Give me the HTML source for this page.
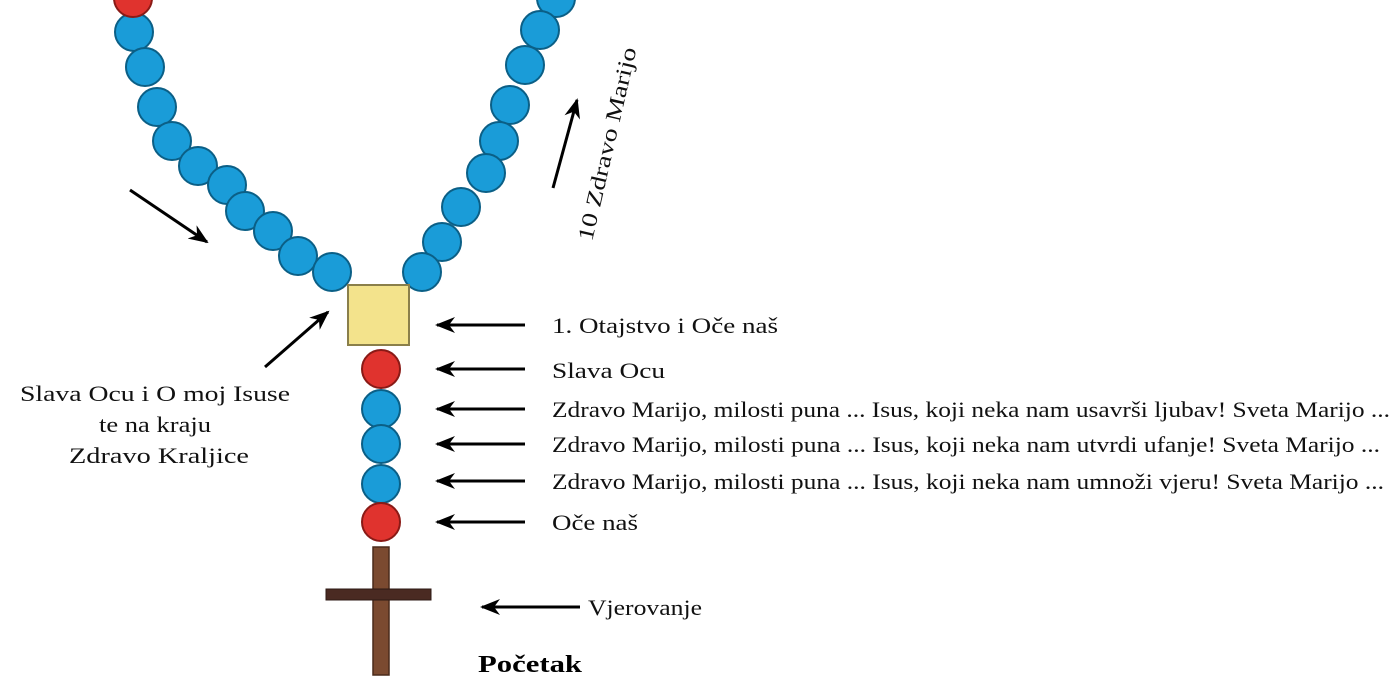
<!DOCTYPE html>
<html><head><style>body{margin:0;background:#fff}svg{display:block}</style></head><body>
<svg width="1400" height="700" xmlns="http://www.w3.org/2000/svg" font-family="Liberation Serif, serif">
<defs><marker id="a" viewBox="0 0 20 16" refX="18" refY="8" markerWidth="20" markerHeight="16" markerUnits="userSpaceOnUse" orient="auto"><path d="M0,0 L20,8 L0,16 L6,8 Z" fill="#000"/></marker></defs>
<g fill="#1a9cd8" stroke="#0b5f86" stroke-width="2">
<circle cx="134" cy="32" r="19"/><circle cx="145" cy="67" r="19"/><circle cx="157" cy="107" r="19"/><circle cx="172" cy="141" r="19"/><circle cx="198" cy="166" r="19"/><circle cx="227" cy="185" r="19"/><circle cx="245" cy="211" r="19"/><circle cx="273" cy="231" r="19"/><circle cx="298" cy="256" r="19"/><circle cx="332" cy="272" r="19"/>
<circle cx="556" cy="-2" r="19"/><circle cx="540" cy="30" r="19"/><circle cx="525" cy="65" r="19"/><circle cx="510" cy="105" r="19"/><circle cx="499" cy="141" r="19"/><circle cx="486" cy="173" r="19"/><circle cx="461" cy="207" r="19"/><circle cx="442" cy="242" r="19"/><circle cx="422" cy="272" r="19"/>
<circle cx="381" cy="409" r="19"/><circle cx="381" cy="444" r="19"/><circle cx="381" cy="484" r="19"/>
</g>
<g fill="#e0332e" stroke="#8a1a16" stroke-width="2">
<circle cx="133" cy="-2" r="19"/><circle cx="381" cy="369" r="19"/><circle cx="381" cy="522" r="19"/>
</g>
<rect x="348" y="285" width="61" height="60" fill="#f3e38c" stroke="#8a7f4a" stroke-width="2"/>
<rect x="373" y="547" width="16" height="128" fill="#7b4a30" stroke="#4a2a1a" stroke-width="1.5"/>
<rect x="326" y="589" width="105" height="11" fill="#4a2a22" stroke="#2e1a14" stroke-width="1"/>
<g stroke="#000" stroke-width="3" marker-end="url(#a)">
<line x1="525" y1="325" x2="437" y2="325"/><line x1="525" y1="369" x2="437" y2="369"/><line x1="525" y1="409" x2="437" y2="409"/><line x1="525" y1="444" x2="437" y2="444"/><line x1="525" y1="481" x2="437" y2="481"/><line x1="525" y1="522" x2="437" y2="522"/>
<line x1="580" y1="607" x2="482" y2="607"/>
<line x1="130" y1="190" x2="207" y2="242"/>
<line x1="265" y1="367" x2="328" y2="312"/>
<line x1="553" y1="188" x2="577" y2="100"/>
</g>
<g font-size="22" fill="#111">
<text x="552" y="333" textLength="226" lengthAdjust="spacingAndGlyphs">1. Otajstvo i Oče naš</text>
<text x="552" y="378" textLength="113" lengthAdjust="spacingAndGlyphs">Slava Ocu</text>
<text x="552" y="417" textLength="838" lengthAdjust="spacingAndGlyphs">Zdravo Marijo, milosti puna ... Isus, koji neka nam usavrši ljubav! Sveta Marijo ...</text>
<text x="552" y="452" textLength="828" lengthAdjust="spacingAndGlyphs">Zdravo Marijo, milosti puna ... Isus, koji neka nam utvrdi ufanje! Sveta Marijo ...</text>
<text x="552" y="489" textLength="832" lengthAdjust="spacingAndGlyphs">Zdravo Marijo, milosti puna ... Isus, koji neka nam umnoži vjeru! Sveta Marijo ...</text>
<text x="552" y="530" textLength="86" lengthAdjust="spacingAndGlyphs">Oče naš</text>
<text x="588" y="615" textLength="114" lengthAdjust="spacingAndGlyphs">Vjerovanje</text>
</g>
<text x="478" y="672" font-size="24" font-weight="bold" textLength="104" lengthAdjust="spacingAndGlyphs">Početak</text>
<g font-size="22" fill="#111">
<text x="20" y="401" textLength="270" lengthAdjust="spacingAndGlyphs">Slava Ocu i O moj Isuse</text>
<text x="99" y="432" textLength="112" lengthAdjust="spacingAndGlyphs">te na kraju</text>
<text x="69" y="463" textLength="180" lengthAdjust="spacingAndGlyphs">Zdravo Kraljice</text>
</g>
<text x="0" y="0" font-size="22" fill="#111" textLength="198" lengthAdjust="spacingAndGlyphs" transform="translate(592,242) rotate(-77)">10 Zdravo Marijo</text>
</svg>
</body></html>
